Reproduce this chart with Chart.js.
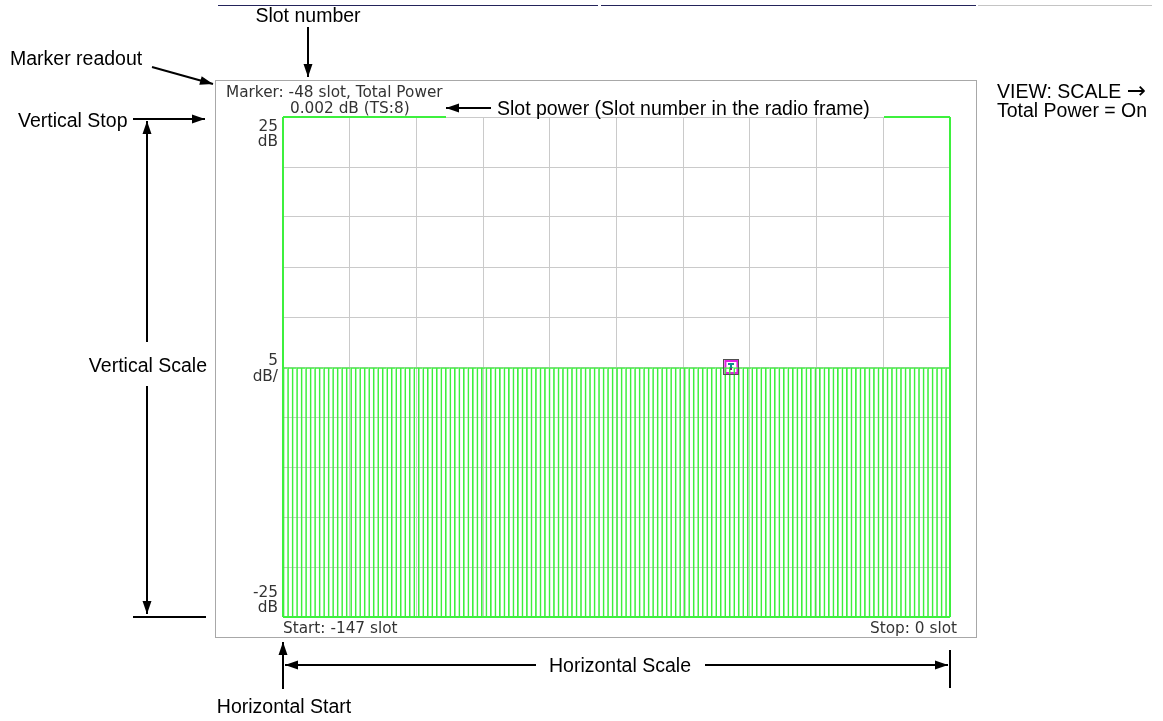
<!DOCTYPE html>
<html>
<head>
<meta charset="utf-8">
<script src="https://cdn.jsdelivr.net/npm/chart.js@4"></script>
<style>
  body { margin: 0; background: #fff; }
</style>
</head>
<body>
<canvas id="slotChart" width="1163" height="721"></canvas>
<script>
// horizontal span (slots) and vertical scale (dB)
const slotStart = -147;
const slotStop = 0;
const topDb = 25;
const bottomDb = -25;
const dbPerDiv = 5;
const markerSlot = -48;

// total power per slot, dB (all bars sit on the 0 dB line)
const slotPower = [
    0, 0, 0, 0, 0, 0, 0, 0, 0, 0,
    0, 0, 0, 0, 0, 0, 0, 0, 0, 0,
    0, 0, 0, 0, 0, 0, 0, 0, 0, 0,
    0, 0, 0, 0, 0, 0, 0, 0, 0, 0,
    0, 0, 0, 0, 0, 0, 0, 0, 0, 0,
    0, 0, 0, 0, 0, 0, 0, 0, 0, 0,
    0, 0, 0, 0, 0, 0, 0, 0, 0, 0,
    0, 0, 0, 0, 0, 0, 0, 0, 0, 0,
    0, 0, 0, 0, 0, 0, 0, 0, 0, 0,
    0, 0, 0, 0, 0, 0, 0, 0, 0, 0.002,
    0, 0, 0, 0, 0, 0, 0, 0, 0, 0,
    0, 0, 0, 0, 0, 0, 0, 0, 0, 0,
    0, 0, 0, 0, 0, 0, 0, 0, 0, 0,
    0, 0, 0, 0, 0, 0, 0, 0, 0, 0,
    0, 0, 0, 0, 0, 0, 0, 0
];

const slotLabels = [];
for (let s = slotStart; s <= slotStop; s++) slotLabels.push(String(s));

const markerIndex = slotLabels.indexOf(String(markerSlot));
const markerPower = slotPower[markerIndex];

const GREEN = '#3df03d';
const GRID = '#cacaca';
const INFO_FONT = '15.3px "DejaVu Sans"';
const NOTE_FONT = '19.5px "Liberation Sans"';

function arrowHead(ctx, x1, y1, x2, y2) {
    const ang = Math.atan2(y2 - y1, x2 - x1);
    const len = 13, half = 4.5;
    ctx.beginPath();
    ctx.moveTo(x2, y2);
    ctx.lineTo(x2 - len * Math.cos(ang) + half * Math.sin(ang), y2 - len * Math.sin(ang) - half * Math.cos(ang));
    ctx.lineTo(x2 - len * Math.cos(ang) - half * Math.sin(ang), y2 - len * Math.sin(ang) + half * Math.cos(ang));
    ctx.closePath();
    ctx.fill();
}

function arrow(ctx, x1, y1, x2, y2) {
    ctx.beginPath();
    ctx.moveTo(x1, y1);
    ctx.lineTo(x2, y2);
    ctx.stroke();
    arrowHead(ctx, x1, y1, x2, y2);
}

function line(ctx, x1, y1, x2, y2) {
    ctx.beginPath();
    ctx.moveTo(x1, y1);
    ctx.lineTo(x2, y2);
    ctx.stroke();
}

const screenPlugin = {
    id: 'screen',
    beforeDraw(chart) {
        const ctx = chart.ctx;
        ctx.save();
        ctx.fillStyle = '#fff';
        ctx.fillRect(0, 0, chart.width, chart.height);
        // instrument screen frame
        ctx.strokeStyle = '#a8a8a8';
        ctx.lineWidth = 1;
        ctx.strokeRect(215.5, 80.5, 761, 557);
        // page rule at the very top
        ctx.strokeStyle = '#23235a';
        line(ctx, 218, 5.5, 598, 5.5);
        line(ctx, 601, 5.5, 976, 5.5);
        ctx.strokeStyle = '#c4c4c4';
        line(ctx, 978, 5.5, 1152, 5.5);
        ctx.restore();
    },
    afterDatasetsDraw(chart) {
        const ctx = chart.ctx;
        const a = chart.chartArea;
        ctx.save();
        ctx.strokeStyle = GREEN;
        ctx.lineWidth = 2;
        line(ctx, a.left, a.top, a.left, a.bottom);
        line(ctx, a.right, a.top, a.right, a.bottom);
        line(ctx, a.left, a.bottom, a.right, a.bottom);
        line(ctx, a.left, a.top, 446, a.top);
        line(ctx, 884, a.top, a.right, a.top);

        // marker decoration
        const p = chart.getDatasetMeta(1).data[0];
        const mx = Math.round(p.x), my = Math.round(p.y);
        ctx.lineWidth = 1;
        ctx.strokeStyle = '#505050';
        ctx.strokeRect(mx - 7.5, my - 7.5, 15, 15);
        ctx.fillStyle = '#108c8c';
        ctx.fillRect(mx - 3, my - 4, 6, 2);
        ctx.fillRect(mx - 1, my - 2, 2, 3);
        ctx.fillStyle = '#6a2a6a';
        ctx.fillRect(mx - 1, my + 1, 2, 2);
        ctx.restore();
    },
    afterDraw(chart) {
        const ctx = chart.ctx;
        ctx.save();
        // readouts inside the screen
        ctx.fillStyle = '#333';
        ctx.font = INFO_FONT;
        ctx.textAlign = 'left';
        ctx.fillText(`Marker: ${markerSlot} slot, Total Power`, 226, 97);
        ctx.fillText(`${markerPower.toFixed(3)} dB (TS:8)`, 290, 113);
        ctx.fillText(`Start: ${slotStart} slot`, 283, 633);
        ctx.textAlign = 'right';
        ctx.fillText(`Stop: ${slotStop} slot`, 957, 633);
        ctx.fillText(String(topDb), 278, 131);
        ctx.fillText('dB', 278, 146);
        ctx.fillText(String(dbPerDiv), 278, 365);
        ctx.fillText('dB/', 278, 381);
        ctx.fillText(String(bottomDb), 278, 597);
        ctx.fillText('dB', 278, 612);

        // callouts around the screen
        ctx.fillStyle = '#000';
        ctx.strokeStyle = '#000';
        ctx.lineWidth = 2;
        ctx.font = NOTE_FONT;
        ctx.textAlign = 'center';
        ctx.fillText('Slot number', 308, 22);
        arrow(ctx, 308, 27, 308, 77);

        ctx.textAlign = 'left';
        ctx.fillText('Marker readout', 10, 65);
        arrow(ctx, 152, 67, 213, 84);

        ctx.fillText('Vertical Stop', 18, 127);
        arrow(ctx, 133, 119, 205, 119);

        arrow(ctx, 147, 342, 147, 121);
        arrow(ctx, 147, 386, 147, 614);
        ctx.textAlign = 'right';
        ctx.fillText('Vertical Scale', 207, 372);
        line(ctx, 133, 617, 206, 617);

        ctx.textAlign = 'left';
        ctx.fillText('Slot power (Slot number in the radio frame)', 497, 115);
        arrow(ctx, 491, 108, 446, 108);

        ctx.fillText('VIEW: SCALE', 997, 98);
        const w = ctx.measureText('VIEW: SCALE ').width;
        ctx.font = '23px "DejaVu Sans"';
        ctx.fillText('\u2192', 997 + w, 98);
        ctx.font = NOTE_FONT;
        ctx.fillText('Total Power = On', 997, 117);

        ctx.textAlign = 'center';
        ctx.fillText('Horizontal Scale', 620, 672);
        arrow(ctx, 536, 665, 285, 665);
        arrow(ctx, 705, 665, 948, 665);
        line(ctx, 950, 650, 950, 688);

        ctx.fillText('Horizontal Start', 284, 713);
        arrow(ctx, 283, 689, 283, 642);
        ctx.restore();
    }
};

new Chart(document.getElementById('slotChart').getContext('2d'), {
    type: 'bar',
    data: {
        labels: slotLabels,
        datasets: [{
            label: 'Total Power',
            data: slotPower.map(v => [bottomDb, v]),
            backgroundColor: 'rgba(0,0,0,0)',
            borderColor: GREEN,
            borderWidth: { left: 1, top: 1, right: 0, bottom: 0 },
            borderSkipped: false,
            barPercentage: 1,
            categoryPercentage: 1
        }, {
            type: 'line',
            label: 'Marker',
            data: [{ x: String(markerSlot), y: markerPower }],
            showLine: false,
            pointStyle: 'rect',
            pointRadius: 8.5,
            pointBorderColor: '#e020e0',
            pointBackgroundColor: '#ffffff',
            pointBorderWidth: 2
        }]
    },
    options: {
        responsive: false,
        animation: false,
        events: [],
        layout: { padding: { left: 283, top: 117, right: 213, bottom: 104 } },
        plugins: { legend: { display: false }, tooltip: { enabled: false } },
        scales: {
            x: {
                type: 'category',
                offset: true,
                grid: { display: false },
                border: { display: false },
                ticks: { display: false },
                afterFit: s => { s.height = 0; }
            },
            xg: {
                type: 'linear',
                position: 'bottom',
                min: 0,
                max: 10,
                offset: false,
                grid: { color: GRID, lineWidth: 1, drawTicks: false, offset: false },
                border: { display: false },
                ticks: { display: false, stepSize: 1 },
                afterFit: s => { s.height = 0; }
            },
            y: {
                min: bottomDb,
                max: topDb,
                grid: { color: GRID, lineWidth: 1, drawTicks: false },
                border: { display: false },
                ticks: { display: false, stepSize: dbPerDiv },
                afterFit: s => { s.width = 0; }
            }
        }
    },
    plugins: [screenPlugin]
});
</script>
</body>
</html>
